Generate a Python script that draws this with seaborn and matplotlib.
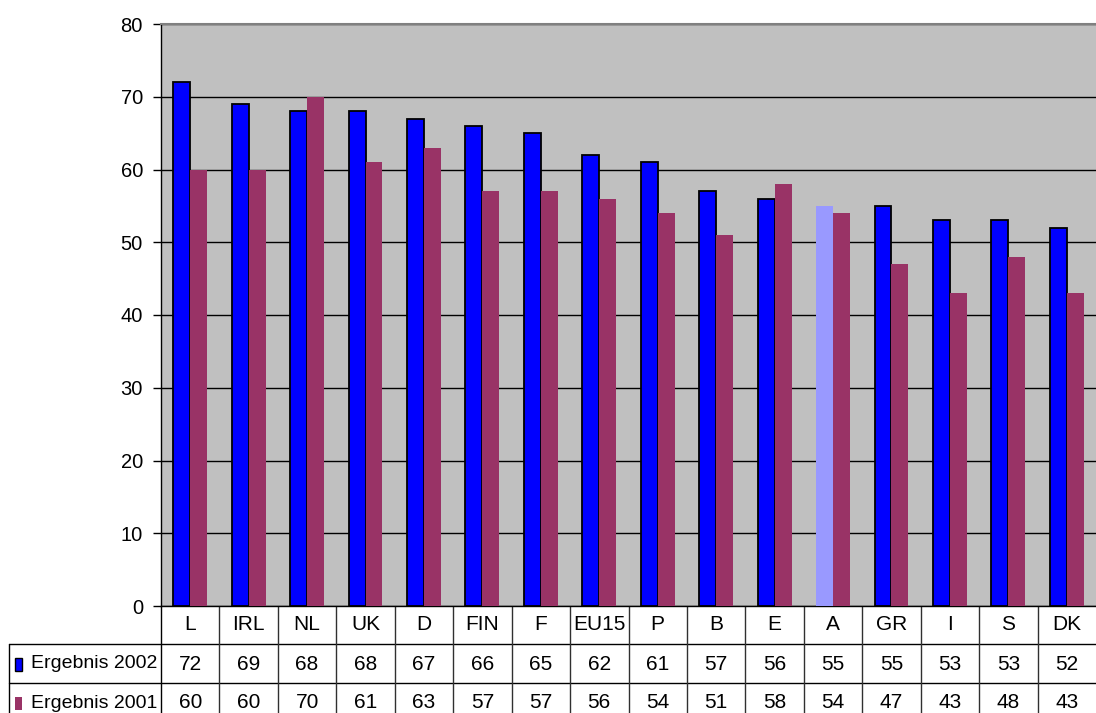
# Ergebnis 2002 vs 2001 - bar chart with data table (Excel style)
import pandas as pd
import matplotlib
matplotlib.use("Agg")
import matplotlib.pyplot as plt
from matplotlib.patches import Rectangle
import seaborn as sns

# data
countries = ["L", "IRL", "NL", "UK", "D", "FIN", "F", "EU15",
             "P", "B", "E", "A", "GR", "I", "S", "DK"]
result_2002 = [72, 69, 68, 68, 67, 66, 65, 62, 61, 57, 56, 55, 55, 53, 53, 52]
result_2001 = [60, 60, 70, 61, 63, 57, 57, 56, 54, 51, 58, 54, 47, 43, 48, 43]
series_names = ["Ergebnis 2002", "Ergebnis 2001"]
highlight = "A"
y_ticks = [0, 10, 20, 30, 40, 50, 60, 70, 80]

colors = {"Ergebnis 2002": "#0000FF", "Ergebnis 2001": "#993366"}
highlight_color = "#9999FF"

df = pd.DataFrame({
    "Land": countries * 2,
    "Wert": result_2002 + result_2001,
    "Serie": [series_names[0]] * len(countries) + [series_names[1]] * len(countries),
})

sns.set_theme(style="white")
plt.rcParams["font.family"] = ["Liberation Sans", "DejaVu Sans"]

W, H = 1096, 713
x0, x1, y_top, y_bot = 161, 1096, 24, 606

fig = plt.figure(figsize=(W / 100, H / 100), dpi=100)
ax = fig.add_axes([x0 / W, 1 - y_bot / H, (x1 - x0) / W, (y_bot - y_top) / H])
ax.set_facecolor("#C0C0C0")

sns.barplot(data=df, x="Land", y="Wert", hue="Serie", palette=colors,
            width=0.58, saturation=1, legend=False, ax=ax, zorder=3)

for label, bar in zip(countries, ax.containers[0]):
    if label == highlight:
        bar.set_facecolor(highlight_color)
        bar.set_edgecolor("none")
    else:
        bar.set_edgecolor("black")
        bar.set_linewidth(1.3)
for bar in ax.containers[1]:
    bar.set_linewidth(0)

ax.set_ylim(0, 80)
ax.set_yticks(y_ticks)
ax.set_xticks([])
ax.set_xlabel("")
ax.set_ylabel("")
ax.yaxis.grid(True, color="black", linewidth=1)
ax.set_axisbelow(True)
ax.tick_params(axis="y", direction="out", length=6, width=1, color="black",
               labelsize=14.5, pad=7, left=True, labelcolor="black")
for s in ["left", "bottom"]:
    ax.spines[s].set_color("black")
    ax.spines[s].set_linewidth(1)
ax.spines["top"].set_color("#808080")
ax.spines["top"].set_linewidth(1.5)
ax.spines["right"].set_visible(False)

# data table below the plot, drawn on an overlay in pixel coordinates
tab = fig.add_axes([0, 0, 1, 1], zorder=-1)
tab.set_xlim(0, W)
tab.set_ylim(H, 0)
tab.axis("off")

n = len(countries)
cw = (x1 - x0) / n
row_lines = [644, 683]
row_centers = [625, 664, 703]
left_edge = 9
cell_size = 15
head_size = 14

for y in row_lines:
    tab.plot([left_edge, W], [y, y], color="black", lw=1)
tab.plot([left_edge, left_edge], [row_lines[0], H], color="black", lw=1)
tab.plot([x0, x0], [y_bot, H], color="black", lw=1)
for k in range(1, n):
    xb = x0 + k * cw
    tab.plot([xb, xb], [y_bot, H], color="#303030", lw=1)

for i, lab in enumerate(countries):
    cx = x0 + (i + 0.5) * cw
    tab.text(cx, row_centers[0], lab, ha="center", va="center",
             fontsize=cell_size, color="black")
    tab.text(cx, row_centers[1], str(result_2002[i]), ha="center", va="center",
             fontsize=cell_size, color="black")
    tab.text(cx, row_centers[2], str(result_2001[i]), ha="center", va="center",
             fontsize=cell_size, color="black")

# row headers with legend keys
for r, name in enumerate(series_names):
    yc = row_centers[r + 1]
    edge = "black" if r == 0 else "none"
    tab.add_patch(Rectangle((15, yc - 6.5), 7, 13, facecolor=colors[name],
                            edgecolor=edge, lw=1))
    tab.text(31, yc, name, ha="left", va="center",
             fontsize=head_size, color="black")

fig.savefig("out.png", dpi=100)
plt.close(fig)
